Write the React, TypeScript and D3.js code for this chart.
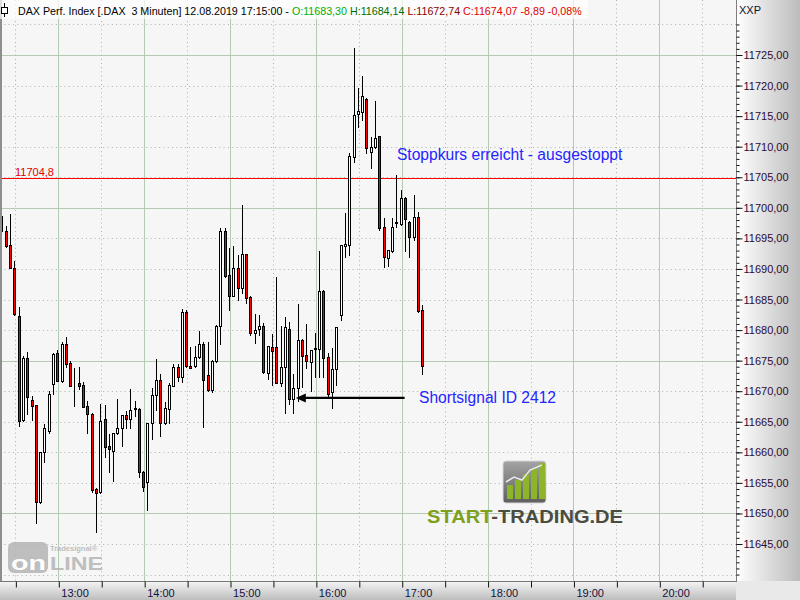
import { useEffect, useRef } from 'react';
import * as d3 from 'd3';

// 3-minute DAX bars, 12.08.2019, first bar 12:21, last bar 17:15
const firstBarTime = '12:21';
const barMinutes = 3;

const opens = [
  11698.7, 11696.2, 11693.9, 11690.2, 11682.3, 11665.3, 11675.4, 11668.6, 11667.7, 11651.9,
  11660.0, 11663.5, 11671.2, 11676.2, 11671.7, 11677.8, 11674.6, 11671.3, 11671.4, 11671.0,
  11667.6, 11666.3, 11654.0, 11653.5, 11665.4, 11661.0, 11660.2, 11663.2, 11664.0, 11666.1,
  11665.4, 11667.1, 11667.1, 11656.8, 11655.1, 11664.8, 11669.4, 11671.8, 11664.8, 11667.1,
  11670.9, 11674.0, 11672.3, 11683.0, 11674.1, 11674.1, 11675.6, 11677.7, 11672.6, 11670.2,
  11674.9, 11680.7, 11696.2, 11689.0, 11685.6, 11690.2, 11686.9, 11692.4, 11685.4, 11679.5,
  11680.2, 11680.7, 11673.0, 11677.2, 11677.2, 11671.3, 11674.0, 11680.2, 11668.7, 11670.5,
  11678.4, 11675.9, 11674.8, 11676.9, 11676.9, 11686.4, 11675.6, 11669.8, 11673.7, 11682.5,
  11693.8, 11693.9, 11708.3, 11715.3, 11715.7, 11717.8, 11709.1, 11709.9, 11711.7, 11696.9,
  11691.8, 11692.9, 11697.5, 11697.4, 11701.6, 11697.7, 11695.2, 11698.5, 11683.30,
];
const highs = [
  11698.9, 11697.0, 11699.0, 11691.3, 11683.8, 11675.8, 11676.4, 11669.2, 11667.8, 11660.0,
  11664.6, 11670.0, 11676.2, 11676.7, 11678.0, 11678.9, 11674.9, 11673.8, 11674.0, 11671.5,
  11668.4, 11666.5, 11654.1, 11667.9, 11667.7, 11663.0, 11663.2, 11668.7, 11666.1, 11666.8,
  11670.4, 11668.4, 11667.2, 11656.9, 11664.8, 11670.5, 11675.3, 11672.8, 11668.2, 11671.3,
  11674.4, 11674.4, 11683.4, 11683.3, 11677.2, 11677.4, 11679.8, 11678.0, 11678.0, 11675.1,
  11680.8, 11696.7, 11696.7, 11693.4, 11693.8, 11692.3, 11700.4, 11692.5, 11685.5, 11682.6,
  11682.5, 11681.2, 11677.4, 11679.4, 11688.7, 11680.7, 11682.1, 11681.3, 11672.8, 11684.3,
  11678.5, 11681.0, 11676.8, 11679.6, 11692.9, 11686.5, 11676.2, 11677.1, 11680.5, 11693.9,
  11699.2, 11709.0, 11726.1, 11719.6, 11721.6, 11717.9, 11711.6, 11717.5, 11711.8, 11698.3,
  11693.1, 11698.3, 11705.4, 11702.9, 11701.7, 11697.8, 11702.1, 11699.3, 11684.14,
];
const lows = [
  11694.7, 11693.6, 11690.1, 11682.5, 11664.3, 11665.2, 11666.3, 11665.3, 11648.4, 11651.7,
  11658.4, 11663.2, 11669.6, 11671.6, 11671.5, 11673.9, 11670.8, 11667.5, 11670.4, 11667.4,
  11663.2, 11653.5, 11647.0, 11653.4, 11659.2, 11656.8, 11655.3, 11663.0, 11661.0, 11664.0,
  11664.0, 11665.9, 11656.0, 11653.7, 11650.6, 11662.2, 11666.9, 11662.7, 11664.7, 11664.8,
  11670.8, 11671.7, 11671.5, 11674.0, 11673.8, 11674.0, 11675.5, 11664.1, 11670.1, 11669.9,
  11674.8, 11677.7, 11688.7, 11683.3, 11685.5, 11684.9, 11686.1, 11684.4, 11679.2, 11677.9,
  11679.2, 11673.0, 11672.0, 11671.0, 11671.3, 11670.8, 11666.4, 11667.9, 11666.4, 11668.4,
  11670.7, 11673.8, 11670.0, 11672.3, 11672.3, 11672.3, 11669.0, 11667.3, 11671.0, 11681.6,
  11692.0, 11692.3, 11707.5, 11713.2, 11714.4, 11709.0, 11706.5, 11709.8, 11696.4, 11690.3,
  11690.5, 11692.8, 11696.9, 11697.2, 11692.9, 11692.0, 11694.7, 11683.0, 11672.74,
];
const closes = [
  11696.2, 11693.8, 11690.2, 11682.6, 11665.1, 11675.4, 11669.0, 11667.6, 11651.9, 11660.0,
  11664.0, 11669.5, 11676.1, 11671.7, 11677.8, 11674.4, 11670.9, 11671.4, 11670.9, 11667.4,
  11666.3, 11653.8, 11653.3, 11665.1, 11660.9, 11660.5, 11663.2, 11664.0, 11666.1, 11665.4,
  11666.9, 11667.2, 11656.8, 11654.3, 11664.8, 11669.4, 11671.8, 11664.8, 11667.3, 11671.0,
  11674.0, 11672.3, 11683.0, 11674.1, 11673.8, 11675.6, 11677.7, 11671.8, 11670.2, 11675.0,
  11680.7, 11696.2, 11688.8, 11685.6, 11690.2, 11686.9, 11692.4, 11685.3, 11679.5, 11680.0,
  11680.7, 11673.1, 11677.4, 11676.6, 11671.4, 11674.0, 11680.5, 11668.7, 11670.5, 11678.4,
  11675.8, 11674.9, 11676.7, 11677.0, 11686.4, 11675.4, 11669.5, 11673.7, 11680.5, 11693.9,
  11694.1, 11708.5, 11715.2, 11715.8, 11718.3, 11709.8, 11709.9, 11711.4, 11696.7, 11692.0,
  11693.1, 11696.9, 11697.6, 11701.6, 11698.2, 11695.2, 11698.5, 11683.1, 11674.07,
];

const priceLabels = [
  11645, 11650, 11655, 11660, 11665, 11670, 11675, 11680, 11685,
  11690, 11695, 11700, 11705, 11710, 11715, 11720, 11725,
];
const hourLabels = ['13:00', '14:00', '15:00', '16:00', '17:00', '18:00', '19:00', '20:00'];
const halfHours = ['12:30', '13:30', '14:30', '15:30', '16:30', '17:30', '18:30', '19:30', '20:30'];

const stopLevel = 11704.8;
const signalLevel = 11668.9;
const stopText = 'Stoppkurs erreicht - ausgestoppt';
const signalText = 'Shortsignal ID 2412';

const headerParts: [string, string][] = [
  ['DAX Perf. Index [.DAX  3 Minuten] 12.08.2019 17:15:00 - ', '#000000'],
  ['O:11683,30', '#00b000'],
  [' H:11684,14', '#006e00'],
  [' L:11672,74', '#8a0000'],
  [' C:11674,07 -8,89 -0,08%', '#e00000'],
];

const font = '"Liberation Sans", Arial, sans-serif';

const parseTime = (hm: string) => {
  const [h, m, s] = hm.split(':').map(Number);
  return new Date(2019, 7, 12, h, m, s || 0);
};

export default function App() {
  const svgRef = useRef<SVGSVGElement>(null);

  useEffect(() => {
    if (!svgRef.current) return;
    const svg = d3.select(svgRef.current);
    svg.selectAll('*').remove();

    const width = 800;
    const height = 600;
    const plotRight = 736;
    const plotBottom = 581;

    const x = d3.scaleTime()
      .domain([parseTime('13:00'), parseTime('20:00')])
      .range([58.3, 659.3]);
    const y = d3.scaleLinear()
      .domain([11645, 11725])
      .range([544, 55]);

    const defs = svg.append('defs');
    defs.append('clipPath').attr('id', 'plotClip')
      .append('rect').attr('x', 0).attr('y', 0).attr('width', plotRight).attr('height', plotBottom);

    const gradR = defs.append('linearGradient').attr('id', 'axisGradR')
      .attr('x1', 0).attr('x2', 1).attr('y1', 0).attr('y2', 0);
    gradR.append('stop').attr('offset', '0%').attr('stop-color', '#ffffff');
    gradR.append('stop').attr('offset', '100%').attr('stop-color', '#bcbcbc');

    const gradB = defs.append('linearGradient').attr('id', 'axisGradB')
      .attr('x1', 0).attr('x2', 0).attr('y1', 0).attr('y2', 1);
    gradB.append('stop').attr('offset', '0%').attr('stop-color', '#f6f6f6');
    gradB.append('stop').attr('offset', '100%').attr('stop-color', '#bdbdbd');

    const gradIcon = defs.append('linearGradient').attr('id', 'iconGrad')
      .attr('x1', 0).attr('x2', 0).attr('y1', 0).attr('y2', 1);
    gradIcon.append('stop').attr('offset', '0%').attr('stop-color', '#a4a4a4');
    gradIcon.append('stop').attr('offset', '100%').attr('stop-color', '#5e5e5e');

    // backgrounds
    svg.append('rect').attr('x', 0).attr('y', 0).attr('width', plotRight).attr('height', plotBottom)
      .attr('fill', '#f6f6f6');
    svg.append('rect').attr('x', plotRight).attr('y', 0).attr('width', width - plotRight).attr('height', plotBottom)
      .attr('fill', 'url(#axisGradR)');
    svg.append('rect').attr('x', 0).attr('y', plotBottom).attr('width', plotRight).attr('height', height - plotBottom)
      .attr('fill', 'url(#axisGradB)');
    svg.append('rect').attr('x', plotRight).attr('y', plotBottom).attr('width', width - plotRight).attr('height', height - plotBottom)
      .attr('fill', '#e9e9e9');

    const plot = svg.append('g').attr('clip-path', 'url(#plotClip)');

    // horizontal grid
    const gridPrices = d3.range(11640, 11731, 5);
    plot.selectAll('.hgrid')
      .data(gridPrices)
      .enter()
      .append('line')
      .attr('x1', 0)
      .attr('x2', plotRight)
      .attr('y1', d => Math.round(y(d)) + 0.5)
      .attr('y2', d => Math.round(y(d)) + 0.5)
      .attr('stroke', d => (d % 25 === 0 ? '#b3cbb3' : '#a9b3a9'))
      .attr('stroke-dasharray', d => (d % 25 === 0 ? null : '1,3.3'));

    // vertical grid
    plot.selectAll('.vgrid-h')
      .data(hourLabels)
      .enter()
      .append('line')
      .attr('x1', d => Math.round(x(parseTime(d))) + 0.5)
      .attr('x2', d => Math.round(x(parseTime(d))) + 0.5)
      .attr('y1', 0)
      .attr('y2', plotBottom)
      .attr('stroke', '#b3cbb3');
    plot.selectAll('.vgrid-m')
      .data(halfHours)
      .enter()
      .append('line')
      .attr('x1', d => Math.round(x(parseTime(d))) + 0.5)
      .attr('x2', d => Math.round(x(parseTime(d))) + 0.5)
      .attr('y1', 0)
      .attr('y2', plotBottom)
      .attr('stroke', '#a9b3a9')
      .attr('stroke-dasharray', '1,3.2');

    // left border
    svg.append('rect').attr('x', 0).attr('y', 0).attr('width', 2).attr('height', plotBottom)
      .attr('fill', '#8e8e8e');

    // Tradesignal online watermark
    const ts = svg.append('g').attr('opacity', 0.85);
    ts.append('rect').attr('x', 8).attr('y', 542).attr('width', 40).attr('height', 31).attr('rx', 6)
      .attr('fill', '#b5b5b5');
    ts.append('text').attr('x', 11).attr('y', 570).attr('font-family', font).attr('font-weight', 'bold')
      .attr('font-size', 20).attr('fill', '#ffffff')
      .attr('textLength', 35).attr('lengthAdjust', 'spacingAndGlyphs').text('on');
    ts.append('text').attr('x', 50).attr('y', 570).attr('font-family', font).attr('font-weight', 'bold')
      .attr('font-size', 18).attr('fill', '#b5b5b5')
      .attr('textLength', 53).attr('lengthAdjust', 'spacingAndGlyphs').text('LINE');
    ts.append('text').attr('x', 50).attr('y', 551).attr('font-family', font).attr('font-weight', 'bold')
      .attr('font-size', 7.5).attr('fill', '#b5b5b5').text('Tradesignal®');

    // START-TRADING.DE watermark
    const st = svg.append('g');
    st.append('rect').attr('x', 503).attr('y', 461).attr('width', 43).attr('height', 42).attr('rx', 3)
      .attr('fill', 'url(#iconGrad)').attr('stroke', '#d8d8d8');
    const iconBars: [number, number][] = [[507, 14], [515, 19], [523, 25], [531, 30], [539, 36]];
    iconBars.forEach(([bx, bh]) => {
      st.append('rect').attr('x', bx).attr('y', 499 - bh).attr('width', 6).attr('height', bh)
        .attr('fill', '#8db52a');
    });
    st.append('polyline').attr('points', '506,482 514,477 522,480 530,470 542,465')
      .attr('fill', 'none').attr('stroke', '#e8e8e8').attr('stroke-width', 1.5);
    const stText = st.append('text').attr('x', 427).attr('y', 523).attr('font-family', font)
      .attr('font-weight', 'bold').attr('font-size', 18.5)
      .attr('textLength', 196).attr('lengthAdjust', 'spacingAndGlyphs');
    stText.append('tspan').attr('fill', '#7f9f1f').text('START');
    stText.append('tspan').attr('fill', '#4a4c40').text('-TRADING.DE');

    // stop level line
    const yStop = Math.round(y(stopLevel)) + 0.5;
    plot.append('line').attr('x1', 0).attr('x2', plotRight).attr('y1', yStop).attr('y2', yStop)
      .attr('stroke', '#ff0000');
    plot.append('text').attr('x', 15).attr('y', yStop - 2.5).attr('font-family', font).attr('font-size', 11)
      .attr('fill', '#e00000').text(d3.format('.1f')(stopLevel).replace('.', ','));

    // candles
    const t0 = parseTime(firstBarTime);
    const bars = opens.map((o, i) => ({
      t: d3.timeMinute.offset(t0, i * barMinutes),
      o,
      h: highs[i],
      l: lows[i],
      c: closes[i],
    }));

    const candle = plot.selectAll('.candle')
      .data(bars)
      .enter()
      .append('g')
      .attr('class', 'candle');

    candle.append('line')
      .attr('x1', d => Math.round(x(d.t)) - 0.5)
      .attr('x2', d => Math.round(x(d.t)) - 0.5)
      .attr('y1', d => Math.round(y(d.h)))
      .attr('y2', d => Math.round(y(d.l)) + 1)
      .attr('stroke', '#000')
      .attr('stroke-width', 1);

    candle.append('rect')
      .attr('x', d => Math.round(x(d.t)) - 1.5)
      .attr('width', 2)
      .attr('y', d => Math.round(y(Math.max(d.o, d.c))) + 0.5)
      .attr('height', d => Math.round(y(Math.min(d.o, d.c))) - Math.round(y(Math.max(d.o, d.c))))
      .attr('fill', d => (d.c >= d.o ? '#ffffff' : '#ff0000'))
      .attr('stroke', '#000')
      .attr('stroke-width', 1);

    // annotations
    svg.append('text')
      .attr('x', x(parseTime('16:56:40')))
      .attr('y', y(11707.9))
      .attr('font-family', font)
      .attr('font-size', 15.6)
      .attr('fill', '#2424ff')
      .text(stopText);

    const ySig = y(signalLevel);
    const xArrowStart = x(parseTime('17:02'));
    const xArrowTip = x(parseTime('15:46'));
    svg.append('line')
      .attr('x1', xArrowStart).attr('x2', xArrowTip + 6)
      .attr('y1', ySig).attr('y2', ySig)
      .attr('stroke', '#000').attr('stroke-width', 2.4);
    svg.append('path')
      .attr('d', `M${xArrowTip},${ySig} L${xArrowTip + 10},${ySig - 4.5} L${xArrowTip + 10},${ySig + 4.5} Z`)
      .attr('fill', '#000');
    svg.append('text')
      .attr('x', x(parseTime('17:12:06')))
      .attr('y', ySig)
      .attr('dy', '0.35em')
      .attr('font-family', font)
      .attr('font-size', 15.6)
      .attr('fill', '#2424ff')
      .text(signalText);

    // header
    svg.append('rect').attr('x', 0).attr('y', 0).attr('width', 588).attr('height', 19)
      .attr('fill', '#ffffff').attr('opacity', 0.7);
    svg.append('line').attr('x1', 4.5).attr('x2', 4.5).attr('y1', 3).attr('y2', 17).attr('stroke', '#000');
    svg.append('rect').attr('x', 1.5).attr('y', 7.5).attr('width', 6).attr('height', 6)
      .attr('fill', '#fff').attr('stroke', '#000');
    const head = svg.append('text').attr('x', 18).attr('y', 14.5).attr('font-family', font).attr('font-size', 10.7)
      .attr('xml:space', 'preserve').style('white-space', 'pre');
    headerParts.forEach(([txt, col]) => {
      head.append('tspan').attr('fill', col).text(txt);
    });

    // right price axis
    svg.append('line').attr('x1', plotRight + 0.5).attr('x2', plotRight + 0.5).attr('y1', 0).attr('y2', plotBottom)
      .attr('stroke', '#7e7e7e');
    const minorAxis = d3.axisRight(y)
      .tickValues(d3.range(11640, 11731, 1))
      .tickSize(3)
      .tickFormat(() => '');
    const gMinor = svg.append('g').attr('transform', `translate(${plotRight + 0.5},0)`).call(minorAxis);
    gMinor.select('.domain').remove();
    gMinor.selectAll('line').attr('stroke', '#111');

    const yAxis = d3.axisRight(y)
      .tickValues(priceLabels)
      .tickSize(6)
      .tickPadding(1)
      .tickFormat(d => d3.format('.2f')(d as number).replace('.', ','));
    const gy = svg.append('g').attr('transform', `translate(${plotRight + 0.5},0)`).call(yAxis);
    gy.select('.domain').remove();
    gy.attr('font-family', font).attr('font-size', 11);
    gy.selectAll('line').attr('stroke', '#111');
    gy.selectAll('text').attr('fill', '#2c0a36');

    svg.append('text').attr('x', 739).attr('y', 14).attr('font-family', font).attr('font-size', 11)
      .attr('fill', '#101030').text('XXP');

    // bottom time axis
    svg.append('line').attr('x1', 0).attr('x2', plotRight + 1).attr('y1', plotBottom + 0.5).attr('y2', plotBottom + 0.5)
      .attr('stroke', '#777');
    const xAxis = d3.axisBottom(x)
      .tickValues([...halfHours, ...hourLabels].map(parseTime))
      .tickSize(6)
      .tickPadding(2)
      .tickFormat(d => {
        const s = d3.timeFormat('%H:%M')(d as Date);
        return hourLabels.includes(s) ? s : '';
      });
    const gx = svg.append('g').attr('transform', `translate(0,${plotBottom + 0.5})`).call(xAxis);
    gx.select('.domain').remove();
    gx.attr('font-family', font).attr('font-size', 11);
    gx.selectAll('.tick line')
      .attr('transform', 'translate(0.5,0)')
      .attr('stroke', '#111');
    gx.selectAll('text').attr('text-anchor', 'start').attr('x', 2.5).attr('fill', '#121240');
  }, []);

  return (
    <svg
      ref={svgRef}
      width={800}
      height={600}
      style={{ position: 'absolute', left: 0, top: 0, display: 'block' }}
    />
  );
}
